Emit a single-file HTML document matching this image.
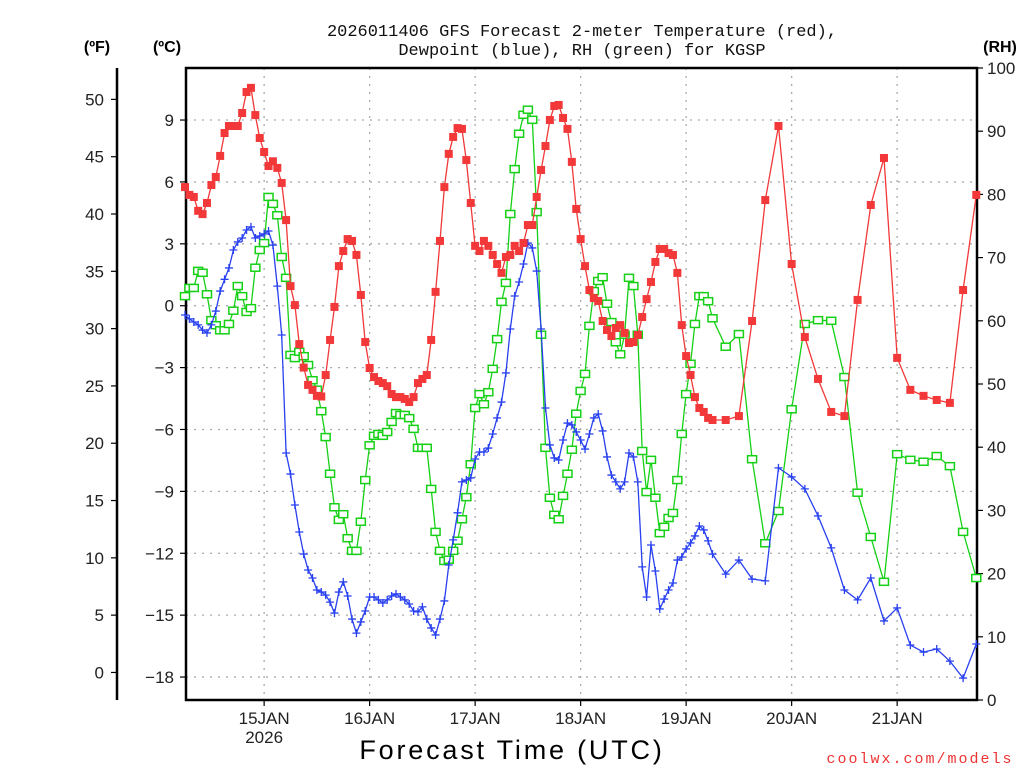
<!DOCTYPE html>
<html><head><meta charset="utf-8"><style>
body{margin:0;background:#fff;}
svg{display:block;font-family:"Liberation Sans",sans-serif;}
</style></head><body>
<svg id="c" width="1024" height="768" xmlns="http://www.w3.org/2000/svg"></svg>
<script>
const tempC=[5.75,5.37,5.27,4.6,4.44,4.98,5.85,6.24,7.26,8.37,8.71,8.71,8.71,9.34,10.36,10.56,9.24,8.13,7.45,6.77,7.0,6.68,5.95,4.15,0.95,0.03,-1.86,-3.0,-3.84,-4.08,-4.37,-4.4,-3.36,-1.66,-0.06,1.92,2.65,3.23,3.14,2.46,0.52,-1.76,-3.02,-3.46,-3.65,-3.75,-3.9,-4.28,-4.43,-4.43,-4.52,-4.67,-4.43,-3.75,-3.55,-3.36,-1.66,0.67,3.14,5.75,7.36,8.18,8.61,8.57,7.06,4.98,2.9,2.65,3.14,2.9,2.46,2.02,1.59,2.36,2.46,2.9,2.65,3.04,3.91,3.91,5.27,6.58,7.74,9.0,9.68,9.73,9.1,8.57,6.97,4.69,3.23,1.92,0.76,0.37,0.23,-0.74,-1.18,-1.47,-1.08,-0.94,-1.32,-1.81,-1.76,-1.42,-0.55,0.32,1.15,2.12,2.75,2.75,2.55,2.46,1.59,-0.94,-2.44,-3.36,-4.43,-4.96,-5.15,-5.44,-5.54,-5.54,-5.35,-0.74,5.12,8.71,2.02,-1.52,-3.55,-5.15,-5.35,0.28,4.88,7.16,-2.53,-4.08,-4.37,-4.57,-4.71,0.76,5.37];
const dewC=[-0.45,-0.64,-0.79,-0.93,-1.18,-1.32,-0.93,-0.26,0.71,1.28,1.83,2.7,3.09,3.28,3.67,3.82,3.28,3.38,3.48,3.62,2.94,0.95,-1.42,-7.14,-8.16,-9.66,-10.97,-12.04,-12.81,-13.2,-13.78,-13.88,-14.03,-14.37,-14.9,-13.88,-13.39,-14.07,-15.19,-15.87,-15.33,-14.8,-14.12,-14.12,-14.26,-14.41,-14.26,-14.07,-13.97,-14.12,-14.26,-14.46,-14.8,-14.84,-14.6,-15.19,-15.62,-15.96,-15.19,-14.31,-12.57,-11.35,-10.04,-8.54,-8.45,-8.35,-7.43,-7.09,-7.09,-6.9,-6.22,-5.44,-4.67,-3.26,-1.13,0.47,1.15,2.02,3.04,2.8,1.68,-1.13,-4.96,-6.75,-7.38,-7.48,-6.51,-5.69,-5.78,-6.12,-6.51,-6.95,-6.22,-5.44,-5.25,-6.07,-7.33,-8.21,-8.54,-8.88,-8.54,-7.14,-7.33,-8.54,-12.66,-14.12,-11.6,-12.86,-14.7,-14.22,-13.78,-13.44,-12.33,-12.18,-11.79,-11.5,-11.16,-10.68,-10.87,-11.4,-12.04,-13.01,-12.33,-13.25,-13.34,-7.86,-8.3,-8.88,-10.19,-11.74,-13.78,-14.26,-13.2,-15.28,-14.65,-16.45,-16.79,-16.64,-17.23,-18.05,-16.4];
const rhPct=[63.9,65.2,65.2,67.9,67.6,64.2,60.1,59.3,58.5,58.5,59.5,61.6,65.5,63.9,61.4,62.0,68.4,71.2,72.3,79.6,78.5,76.7,70.1,66.8,54.6,54.1,55.1,54.4,53.0,50.6,49.1,45.7,41.6,35.8,30.5,28.5,29.4,25.6,23.6,23.6,28.2,34.8,40.3,41.8,42.1,41.8,42.4,44.0,45.4,45.1,45.1,44.6,42.9,39.9,39.9,39.9,33.4,26.6,23.6,22.0,22.2,23.6,25.2,28.6,32.1,37.3,46.2,48.4,46.8,48.7,52.4,57.1,63.0,66.0,76.9,84.0,89.6,92.6,93.4,91.8,77.2,57.8,39.9,32.0,29.3,28.6,32.3,35.8,39.6,45.3,48.9,51.6,59.2,64.7,66.3,66.9,62.7,59.8,56.6,54.7,57.8,66.8,65.5,57.8,39.4,32.9,38.0,32.0,26.4,27.4,28.8,29.6,34.8,42.1,48.4,53.2,59.5,63.9,63.9,63.1,60.4,55.9,57.9,38.1,24.8,29.9,46.0,59.5,60.1,60.0,51.1,32.8,25.8,18.7,38.9,38.0,37.7,38.6,37.0,26.6,19.3];
const cTicks=[9,6,3,0,-3,-6,-9,-12,-15,-18];
const cTickLabels=["9","6","3","0","\u22123","\u22126","\u22129","\u221212","\u221215","\u221218"];
const fTicks=[50,45,40,35,30,25,20,15,10,5,0];
const rhTicks=[100,90,80,70,60,50,40,30,20,10,0];
const dayLabels=["15JAN","16JAN","17JAN","18JAN","19JAN","20JAN","21JAN"];
const dayHours=[18,42,66,90,114,138,162];
// forecast hours: hourly to 120, 3-hourly to 180
const hours=[];for(let h=0;h<=120;h++)hours.push(h);for(let h=123;h<=180;h+=3)hours.push(h);

const L=186,R=977,T=68,B=700;
const xH=h=>185+h*4.396;
const yC=c=>305.7-c*20.63;
const yF=f=>yC((f-32)*5/9);
const yRH=r=>B-r*(B-T)/100;
const svg=document.getElementById('c');const NS='http://www.w3.org/2000/svg';
function mk(tag,attrs,parent){const e=document.createElementNS(NS,tag);for(const k in attrs)e.setAttribute(k,attrs[k]);(parent||svg).appendChild(e);return e;}
function txt(s,x,y,size,anchor,fill,weight,parent){const e=mk('text',{x:x,y:y,'font-size':size,'text-anchor':anchor,fill:fill,'font-weight':weight||'normal'},parent);e.textContent=s;return e;}

const grid=mk('g',{});


cTicks.forEach(c=>{mk('line',{x1:L,x2:R,y1:yC(c),y2:yC(c),stroke:'#aaa','stroke-width':1.3,'stroke-dasharray':'2,6'},grid);});
dayHours.forEach(h=>{mk('line',{x1:xH(h),x2:xH(h),y1:T,y2:B,stroke:'#aaa','stroke-width':1.3,'stroke-dasharray':'2,6'},grid);});

const fr=mk('rect',{x:L,y:T,width:R-L,height:B-T,fill:'none',stroke:'#000','stroke-width':2.5});


const fax=mk('line',{x1:117,x2:117,y1:T,y2:B,stroke:'#000','stroke-width':2.5});



const cg=mk('g',{});


cTicks.forEach((c,i)=>{mk('line',{x1:180,x2:L,y1:yC(c),y2:yC(c),stroke:'#000','stroke-width':1.2},cg);txt(cTickLabels[i],174,yC(c)+6,17,'end','#222','normal',cg);});
const fg=mk('g',{});


fTicks.forEach(f=>{mk('line',{x1:111,x2:117,y1:yF(f),y2:yF(f),stroke:'#000','stroke-width':1.2},fg);txt(String(f),104,yF(f)+6,17,'end','#222','normal',fg);});
const rg=mk('g',{});


rhTicks.forEach(r=>{mk('line',{x1:R,x2:R+6,y1:yRH(r),y2:yRH(r),stroke:'#000','stroke-width':1.2},rg);txt(String(r),987,yRH(r)+6,17,'start','#222','normal',rg);});
const xg=mk('g',{});


dayHours.forEach((h,i)=>{mk('line',{x1:xH(h),x2:xH(h),y1:B,y2:B+6,stroke:'#000','stroke-width':1.2},xg);txt(dayLabels[i],xH(h),724,17,'middle','#222','normal',xg);});
txt('2026',xH(dayHours[0]),743,17,'middle','#222','normal',xg);

let u;
u=txt('(ºF)',97,52,16,'middle','#000','bold');
u=txt('(ºC)',167,52,16,'middle','#000','bold');
u=txt('(RH)',1000,52,16,'middle','#000','bold');

const tg=mk('g',{});


tg.setAttribute('font-family','"Liberation Mono", monospace');
txt('2026011406 GFS Forecast 2-meter Temperature (red),',582,36,17,'middle','#111','normal',tg);
txt('Dewpoint (blue), RH (green) for KGSP',582,55,17,'middle','#111','normal',tg);
u=txt('Forecast Time (UTC)',512,759,27,'middle','#000','normal');u.setAttribute('letter-spacing','2.8');

u=txt('coolwx.com/models',920,763,15,'middle','#e33','normal');u.setAttribute('letter-spacing','2');u.setAttribute('font-family','"Liberation Mono", monospace');


function series(vals,yfn,color,name,marker){
  const g=mk('g',{});
  
  
  const pts=vals.map((v,i)=>xH(hours[i]).toFixed(1)+','+yfn(v).toFixed(1)).join(' ');
  mk('polyline',{points:pts,fill:'none',stroke:color,'stroke-width':1.3},g);
  vals.forEach((v,i)=>{const x=xH(hours[i]),y=yfn(v);let m;
    if(marker==='fill'){m=mk('rect',{x:x-4,y:y-4,width:8,height:8,fill:color},g);}
    else if(marker==='open'){m=mk('rect',{x:x-4.5,y:y-3.5,width:9,height:7,fill:'#fff',stroke:color,'stroke-width':1.5},g);}
    else {m=mk('path',{d:`M${x-4},${y}H${x+4}M${x},${y-4}V${y+4}`,stroke:color,'stroke-width':1.3,fill:'none'},g);}
    
    
  });
}
series(rhPct,yRH,'#16d016','rh-series','open');
series(dewC,yC,'#2840f0','dewpoint-series','plus');
series(tempC,yC,'#f23838','temperature-series','fill');
</script>
</body></html>
